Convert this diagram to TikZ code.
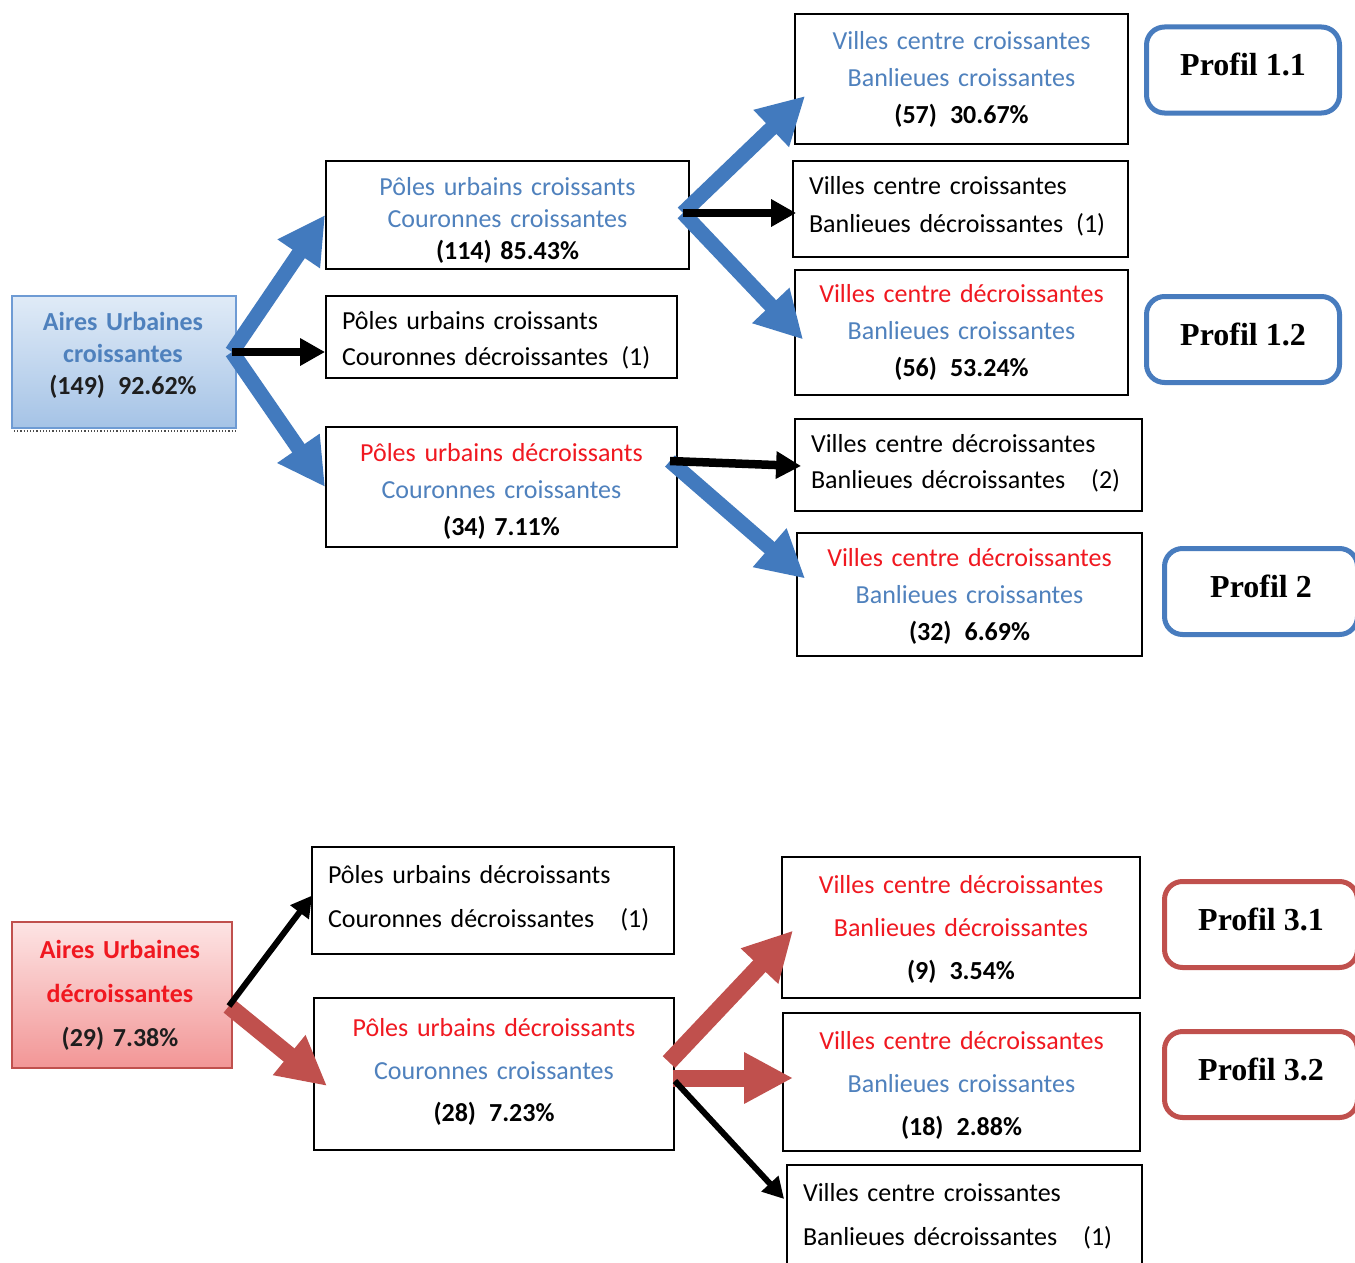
\documentclass[tikz,border=0pt]{standalone}
\usepackage{fontspec}
\setmainfont{Carlito}
\newfontfamily\profont{Liberation Serif}
\usetikzlibrary{arrows.meta,calc,shadings}
\definecolor{tblue}{RGB}{79,129,189}
\definecolor{tred}{RGB}{240,24,32}
\definecolor{ablue}{RGB}{66,122,190}
\definecolor{ared}{RGB}{192,80,77}
\definecolor{pblue}{RGB}{72,124,190}
\definecolor{tdark}{RGB}{30,30,30}
\begin{document}
\begin{tikzpicture}[x=1pt,y=-1pt,
  bx/.style={draw=black, line width=1.8pt, inner sep=0pt},
  txt/.style={inner sep=0pt, align=center},
  ltxt/.style={inner sep=0pt, align=left},
  lsp/.style={font=\fontsize{26}{#1}\selectfont},
  prof/.style={draw=#1, line width=5pt, rounded corners=18pt, minimum width=193pt, minimum height=86pt, inner sep=0pt, font=\profont\bfseries\fontsize{32}{38}\selectfont},
  bluearrow/.style={draw=ablue, line width=15pt, -{Triangle[length=47pt,width=48pt]}},
  redarrow/.style={draw=ared, line width=17pt, -{Triangle[length=49pt,width=48pt]}},
  blkarrow/.style={draw=black, line width=8.5pt, -{Triangle[length=25pt,width=26pt]}},
  thinarrow/.style={draw=black, line width=6pt, -{Triangle[length=21pt,width=22pt]}},
]
\fill[white] (0,0) rectangle (1355,1263);
\useasboundingbox (0,0) rectangle (1355,1263);

% ---------- top part ----------
\draw[dotted, line width=1.2pt, black!70] (14,431) -- (236,431);
\node[bx, minimum width=224pt, minimum height=132pt, draw={rgb,255:red,110;green,155;blue,212}, line width=1.5pt,
      top color={rgb,255:red,224;green,235;blue,247}, bottom color={rgb,255:red,165;green,195;blue,230}] (aup) at (124,362) {};
\node[txt, lsp=32, text width=192pt] (aupt) at ($(aup.center)+(-1,-7)$)
  {\bfseries\textcolor{tblue}{Aires Urbaines}\\ \textcolor{tblue}{croissantes}\\ \textcolor{tdark}{(149)\enspace 92.62\%}};

\node[bx, minimum width=363pt, minimum height=108pt] (p1) at (507.5,215) {};
\node[txt, lsp=32, text width=331pt] (p1t) at ($(p1.center)+(0,5)$)
  {\textcolor{tblue}{Pôles urbains croissants}\\ \textcolor{tblue}{Couronnes croissantes}\\ \textbf{(114) 85.43\%}};
\node[bx, minimum width=351pt, minimum height=82pt] (p2) at (501.5,337) {};
\node[ltxt, lsp=36, text width=319pt] (p2t) at ($(p2.center)+(0,3)$)
  {Pôles urbains croissants\\ Couronnes décroissantes\enspace(1)};
\node[bx, minimum width=351pt, minimum height=120pt] (p3) at (501.5,487) {};
\node[txt, lsp=37, text width=319pt] (p3t) at ($(p3.center)+(0,4)$)
  {\textcolor{tred}{Pôles urbains décroissants}\\ \textcolor{tblue}{Couronnes croissantes}\\ \textbf{(34) 7.11\%}};

\node[bx, minimum width=333pt, minimum height=130pt] (v1) at (961.5,79) {};
\node[txt, lsp=37, text width=301pt] (v1t) at (v1.center)
  {\textcolor{tblue}{Villes centre croissantes}\\ \textcolor{tblue}{Banlieues croissantes}\\ \textbf{(57)\enspace 30.67\%}};
\node[bx, minimum width=335pt, minimum height=96pt] (v2) at (960.5,209) {};
\node[ltxt, lsp=38, text width=303pt] (v2t) at ($(v2.center)+(0,-3)$)
  {Villes centre croissantes\\ Banlieues décroissantes\enspace(1)};
\node[bx, minimum width=333pt, minimum height=125pt] (v3) at (961.5,332.5) {};
\node[txt, lsp=37, text width=301pt] (v3t) at (v3.center)
  {\textcolor{tred}{Villes centre décroissantes}\\ \textcolor{tblue}{Banlieues croissantes}\\ \textbf{(56)\enspace 53.24\%}};
\node[bx, minimum width=347pt, minimum height=92pt] (v4) at (968.5,465) {};
\node[ltxt, lsp=36, text width=315pt] (v4t) at ($(v4.center)+(0,-2)$)
  {Villes centre décroissantes\\ Banlieues décroissantes\quad(2)};
\node[bx, minimum width=345pt, minimum height=123pt] (v5) at (969.5,594.5) {};
\node[txt, lsp=37, text width=313pt] (v5t) at ($(v5.center)+(0,2)$)
  {\textcolor{tred}{Villes centre décroissantes}\\ \textcolor{tblue}{Banlieues croissantes}\\ \textbf{(32)\enspace 6.69\%}};

\node[prof=pblue] (pr11) at (1243,70) {\raisebox{11pt}{Profil 1.1}};
\node[prof=pblue] (pr12) at (1243,339.5) {\raisebox{11pt}{Profil 1.2}};
\node[prof=pblue] (pr2) at (1261,591.5) {\raisebox{11pt}{Profil 2}};

\coordinate (fa) at (232,352);
\draw[bluearrow] (fa) -- (p1.west);
\draw[bluearrow] (fa) -- (p3.west);
\draw[blkarrow] (fa) -- ($(p2.west)+(0,15)$);

\coordinate (fb) at (683,213);
\draw[bluearrow] (fb) -- ($(v1.west)+(11,17)$);
\draw[bluearrow] (fb) -- ($(v3.west)+(9,7)$);
\draw[blkarrow] (fb) -- ($(v2.west)+(4,4)$);

\coordinate (fc) at (670,461);
\draw[bluearrow] (fc) -- ($(v5.west)+(9,-16)$);
\draw[blkarrow] (fc) -- ($(v4.west)+(7,1)$);

% ---------- bottom part ----------
\node[bx, minimum width=220pt, minimum height=146pt, draw=ared, line width=1.5pt,
      top color={rgb,255:red,253;green,228;blue,228}, bottom color={rgb,255:red,242;green,150;blue,150}] (aum) at (122,995) {};
\node[txt, lsp=44, text width=188pt] (aumt) at ($(aum.center)+(-2,0)$)
  {\bfseries\textcolor{tred}{Aires Urbaines}\\ \textcolor{tred}{décroissantes}\\ \textcolor{tdark}{(29) 7.38\%}};

\node[bx, minimum width=362pt, minimum height=107pt] (q1) at (493,900.5) {};
\node[ltxt, lsp=44, text width=330pt] (q1t) at ($(q1.center)+(0,-2)$)
  {Pôles urbains décroissants\\ Couronnes décroissantes\quad(1)};
\node[bx, minimum width=360pt, minimum height=152pt] (q2) at (494,1074) {};
\node[txt, lsp=42.5, text width=328pt] (q2t) at ($(q2.center)+(0,-2)$)
  {\textcolor{tred}{Pôles urbains décroissants}\\ \textcolor{tblue}{Couronnes croissantes}\\ \textbf{(28)\enspace 7.23\%}};

\node[bx, minimum width=358pt, minimum height=141pt] (w1) at (961,927.5) {};
\node[txt, lsp=43, text width=326pt] (w1t) at ($(w1.center)+(0,2)$)
  {\textcolor{tred}{Villes centre décroissantes}\\ \textcolor{tred}{Banlieues décroissantes}\\ \textbf{(9)\enspace 3.54\%}};
\node[bx, minimum width=357pt, minimum height=138pt] (w2) at (961.5,1082) {};
\node[txt, lsp=43, text width=325pt] (w2t) at ($(w2.center)+(0,3)$)
  {\textcolor{tred}{Villes centre décroissantes}\\ \textcolor{tblue}{Banlieues croissantes}\\ \textbf{(18)\enspace 2.88\%}};
\node[bx, minimum width=355pt, minimum height=102pt] (w3) at (964.5,1216) {};
\node[ltxt, lsp=44, text width=323pt] (w3t) at (w3.center)
  {Villes centre croissantes\\ Banlieues décroissantes\quad(1)};

\node[prof=ared] (pr31) at (1261,924.5) {\raisebox{11pt}{Profil 3.1}};
\node[prof=ared] (pr32) at (1261,1074.5) {\raisebox{11pt}{Profil 3.2}};

\coordinate (fd) at (229,1006);
\draw[redarrow] (fd) -- ($(q2.west)+(14,12)$);
\draw[thinarrow] (fd) -- ($(q1.west)+(1,-5)$);

\draw[redarrow] ($(q2.east)+(-6,-12)$) -- ($(w1.west)+(12,3)$);
\draw[redarrow] ($(q2.east)+(-2,4)$) -- ($(w2.west)+(11,-4)$);
\draw[thinarrow] ($(q2.east)+(0,7)$) -- ($(w3.west)+(-2,-17)$);
\end{tikzpicture}
\end{document}
